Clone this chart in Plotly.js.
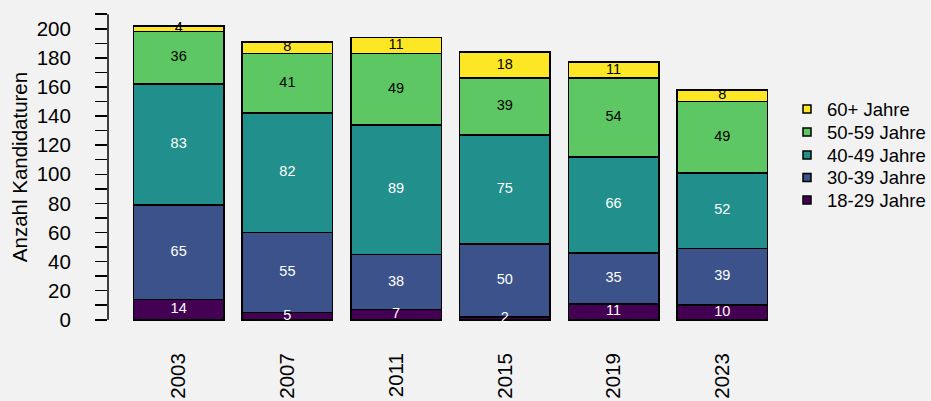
<!DOCTYPE html>
<html>
<head>
<meta charset="utf-8">
<script src="https://cdn.plot.ly/plotly-3.0.1.min.js"></script>
<style>html,body{margin:0;padding:0;background:#f2f2f2;}#chart{width:931px;height:401px;}</style>
</head>
<body>
<div id="chart"></div>
<script>
// ---- data ----
const years = ['2003', '2007', '2011', '2015', '2019', '2023'];
const groupNames = ['18-29 Jahre', '30-39 Jahre', '40-49 Jahre', '50-59 Jahre', '60+ Jahre'];
const age18to29 = [14, 5, 7, 2, 11, 10];
const age30to39 = [65, 55, 38, 50, 35, 39];
const age40to49 = [83, 82, 89, 75, 66, 52];
const age50to59 = [36, 41, 49, 39, 54, 49];
const age60plus = [4, 8, 11, 18, 11, 8];
const yTickVals = [0, 10, 20, 30, 40, 50, 60, 70, 80, 90, 100, 110, 120, 130, 140, 150, 160, 170, 180, 190, 200, 210];
const yTickText = ['0', '', '20', '', '40', '', '60', '', '80', '', '100', '', '120', '', '140', '', '160', '', '180', '', '200', ''];
const yAxisTitle = 'Anzahl Kandidaturen';

// ---- styles ----
const series = [age18to29, age30to39, age40to49, age50to59, age60plus];
const colors = ['#440154', '#3B528B', '#21908C', '#5DC863', '#FDE725'];
const textColors = ['#ffffff', '#ffffff', '#ffffff', '#000000', '#000000'];
const FONT = 'Liberation Sans, Arial, Helvetica, sans-serif';
const BG = '#f2f2f2';

const W = 931, H = 401;
const margin = {l: 108, r: 138, t: 2, b: 69};
const plotW = W - margin.l - margin.r;
const plotH = H - margin.t - margin.b;

const traces = [];
const cum = years.map(() => 0);
const textTraces = [];
series.forEach((vals, si) => {
  traces.push({
    type: 'bar', x: years, y: vals, name: groupNames[si],
    marker: {color: colors[si], line: {color: '#000000', width: 1.5}},
    showlegend: false, hoverinfo: 'skip'
  });
  const mids = vals.map((v, i) => cum[i] + v / 2);
  vals.forEach((v, i) => { cum[i] += v; });
  textTraces.push({
    type: 'scatter', mode: 'text', x: years, y: mids,
    text: vals.map(String),
    textfont: {family: FONT, size: 14.5, color: textColors[si]},
    textposition: 'middle center', showlegend: false, hoverinfo: 'skip', cliponaxis: false
  });
});

// legend (manual, R-style)
const shapes = [];
const annotations = [];
const legendRows = [109, 132, 155, 177.5, 200];
const legendOrder = [4, 3, 2, 1, 0];
legendOrder.forEach((gi, k) => {
  const py = legendRows[k];
  const cx = 807, half = 4;
  shapes.push({
    type: 'rect', xref: 'paper', yref: 'paper',
    x0: (cx - half - margin.l) / plotW, x1: (cx + half - margin.l) / plotW,
    y0: (H - margin.b - (py + half)) / plotH, y1: (H - margin.b - (py - half)) / plotH,
    fillcolor: colors[gi], line: {color: '#000000', width: 1.5}
  });
  annotations.push({
    xref: 'paper', yref: 'paper',
    x: (825 - margin.l) / plotW, y: (H - margin.b - py) / plotH,
    xanchor: 'left', yanchor: 'middle', showarrow: false,
    text: groupNames[gi], font: {family: FONT, size: 18.5, color: '#000000'}
  });
});

// y axis line (R style: from 0 to 210)
shapes.push({
  type: 'line', xref: 'paper', yref: 'y', x0: 0, x1: 0,
  y0: yTickVals[0], y1: yTickVals[yTickVals.length - 1],
  line: {color: '#000000', width: 1.5}
});

const layout = {
  width: W, height: H,
  margin: margin,
  paper_bgcolor: BG, plot_bgcolor: BG,
  barmode: 'stack', bargap: 1 - 1 / 1.2,
  showlegend: false,
  font: {family: FONT, color: '#000000'},
  xaxis: {
    type: 'category', range: [-0.65, 5.65], fixedrange: true,
    showline: false, showgrid: false, zeroline: false, ticks: '',
    tickangle: -90, tickfont: {family: FONT, size: 20.5, color: '#000000'},
    ticklabelstandoff: 16
  },
  yaxis: {
    range: [-8.4, 218.4], fixedrange: true,
    showline: false, showgrid: false, zeroline: false,
    tickmode: 'array', tickvals: yTickVals, ticktext: yTickText,
    ticks: 'outside', ticklen: 12, tickwidth: 1.5, tickcolor: '#000000',
    tickfont: {family: FONT, size: 20.5, color: '#000000'},
    ticklabelstandoff: 20,
    title: {text: yAxisTitle, font: {family: FONT, size: 20.5, color: '#000000'}, standoff: 3}
  },
  shapes: shapes,
  annotations: annotations
};

Plotly.newPlot('chart', traces.concat(textTraces), layout, {displayModeBar: false, staticPlot: true});
</script>
</body>
</html>
